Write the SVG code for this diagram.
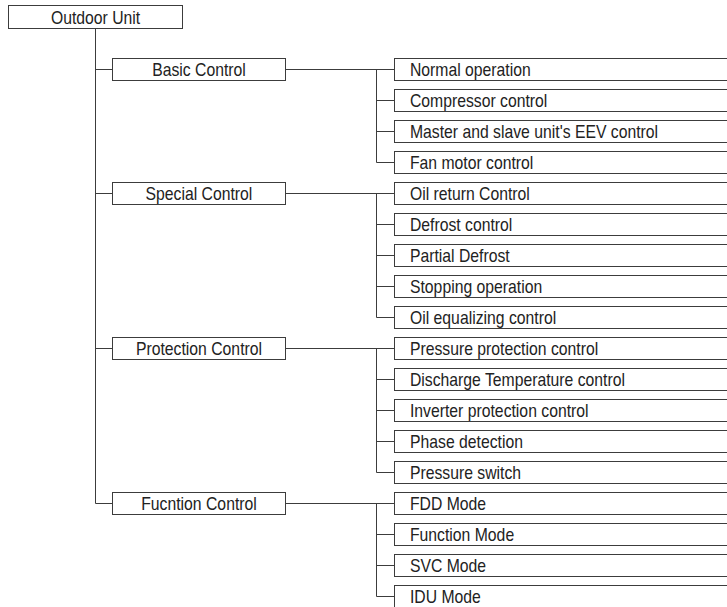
<svg xmlns="http://www.w3.org/2000/svg" width="727" height="607" viewBox="0 0 727 607">
  <style>
    .box { fill: #ffffff; stroke: #3c3c3c; stroke-width: 1; }
    .wire { fill: none; stroke: #3c3c3c; stroke-width: 1; }
    .lbl { font-family: "Liberation Sans", Arial, sans-serif; font-size: 18px; fill: #222222;
           transform-box: fill-box; transform-origin: 0 50%; transform: scaleX(0.875); }
    .mid { text-anchor: middle; transform-origin: 50% 50%; }
  </style>
  <rect width="727" height="607" fill="#ffffff"/>

  <!-- tree connectors -->
  <g id="connectors" class="wire">
    <!-- trunk from the root down to the last group -->
    <path d="M95.5 28.5 V503.5"/>
    <path d="M95.5 69.5 H112.5 M95.5 193.5 H112.5 M95.5 348.5 H112.5 M95.5 503.5 H112.5"/>
    <!-- Basic Control branch -->
    <path d="M285.5 69.5 H394.5 M376.5 69.5 V162.5 M376.5 100.5 H394.5 M376.5 131.5 H394.5 M376.5 162.5 H394.5"/>
    <!-- Special Control branch -->
    <path d="M285.5 193.5 H394.5 M376.5 193.5 V317.5 M376.5 224.5 H394.5 M376.5 255.5 H394.5 M376.5 286.5 H394.5 M376.5 317.5 H394.5"/>
    <!-- Protection Control branch -->
    <path d="M285.5 348.5 H394.5 M376.5 348.5 V472.5 M376.5 379.5 H394.5 M376.5 410.5 H394.5 M376.5 441.5 H394.5 M376.5 472.5 H394.5"/>
    <!-- Function Control branch -->
    <path d="M285.5 503.5 H394.5 M376.5 503.5 V596.5 M376.5 534.5 H394.5 M376.5 565.5 H394.5 M376.5 596.5 H394.5"/>
  </g>

  <!-- root -->
  <g id="outdoor-unit">
    <rect class="box" x="8.5" y="5.5" width="174" height="23"/>
    <text class="lbl mid" x="95.5" y="24.5">Outdoor Unit</text>
  </g>

  <!-- group nodes -->
  <g id="basic-control">
    <rect class="box" x="112.5" y="58.5" width="173" height="22"/>
    <text class="lbl mid" x="199" y="76">Basic Control</text>
  </g>
  <g id="special-control">
    <rect class="box" x="112.5" y="182.5" width="173" height="22"/>
    <text class="lbl mid" x="199" y="200">Special Control</text>
  </g>
  <g id="protection-control">
    <rect class="box" x="112.5" y="337.5" width="173" height="22"/>
    <text class="lbl mid" x="199" y="355">Protection Control</text>
  </g>
  <g id="fucntion-control">
    <rect class="box" x="112.5" y="492.5" width="173" height="22"/>
    <text class="lbl mid" x="199" y="510">Fucntion Control</text>
  </g>

  <!-- leaf nodes: rows 31px apart, boxes run off the right edge -->
  <g id="normal-operation">
    <rect class="box" x="394.5" y="58.5" width="340" height="22"/>
    <text class="lbl" x="410" y="76">Normal operation</text>
  </g>
  <g id="compressor-control">
    <rect class="box" x="394.5" y="89.5" width="340" height="22"/>
    <text class="lbl" x="410" y="107">Compressor control</text>
  </g>
  <g id="eev-control">
    <rect class="box" x="394.5" y="120.5" width="340" height="22"/>
    <text class="lbl" x="410" y="138">Master and slave unit's EEV control</text>
  </g>
  <g id="fan-motor-control">
    <rect class="box" x="394.5" y="151.5" width="340" height="22"/>
    <text class="lbl" x="410" y="169">Fan motor control</text>
  </g>
  <g id="oil-return-control">
    <rect class="box" x="394.5" y="182.5" width="340" height="22"/>
    <text class="lbl" x="410" y="200">Oil return Control</text>
  </g>
  <g id="defrost-control">
    <rect class="box" x="394.5" y="213.5" width="340" height="22"/>
    <text class="lbl" x="410" y="231">Defrost control</text>
  </g>
  <g id="partial-defrost">
    <rect class="box" x="394.5" y="244.5" width="340" height="22"/>
    <text class="lbl" x="410" y="262">Partial Defrost</text>
  </g>
  <g id="stopping-operation">
    <rect class="box" x="394.5" y="275.5" width="340" height="22"/>
    <text class="lbl" x="410" y="293">Stopping operation</text>
  </g>
  <g id="oil-equalizing-control">
    <rect class="box" x="394.5" y="306.5" width="340" height="22"/>
    <text class="lbl" x="410" y="324">Oil equalizing control</text>
  </g>
  <g id="pressure-protection-control">
    <rect class="box" x="394.5" y="337.5" width="340" height="22"/>
    <text class="lbl" x="410" y="355">Pressure protection control</text>
  </g>
  <g id="discharge-temperature-control">
    <rect class="box" x="394.5" y="368.5" width="340" height="22"/>
    <text class="lbl" x="410" y="386">Discharge Temperature control</text>
  </g>
  <g id="inverter-protection-control">
    <rect class="box" x="394.5" y="399.5" width="340" height="22"/>
    <text class="lbl" x="410" y="417">Inverter protection control</text>
  </g>
  <g id="phase-detection">
    <rect class="box" x="394.5" y="430.5" width="340" height="22"/>
    <text class="lbl" x="410" y="448">Phase detection</text>
  </g>
  <g id="pressure-switch">
    <rect class="box" x="394.5" y="461.5" width="340" height="22"/>
    <text class="lbl" x="410" y="479">Pressure switch</text>
  </g>
  <g id="fdd-mode">
    <rect class="box" x="394.5" y="492.5" width="340" height="22"/>
    <text class="lbl" x="410" y="510">FDD Mode</text>
  </g>
  <g id="function-mode">
    <rect class="box" x="394.5" y="523.5" width="340" height="22"/>
    <text class="lbl" x="410" y="541">Function Mode</text>
  </g>
  <g id="svc-mode">
    <rect class="box" x="394.5" y="554.5" width="340" height="22"/>
    <text class="lbl" x="410" y="572">SVC Mode</text>
  </g>
  <g id="idu-mode">
    <rect class="box" x="394.5" y="585.5" width="340" height="22"/>
    <text class="lbl" x="410" y="603">IDU Mode</text>
  </g>
</svg>
